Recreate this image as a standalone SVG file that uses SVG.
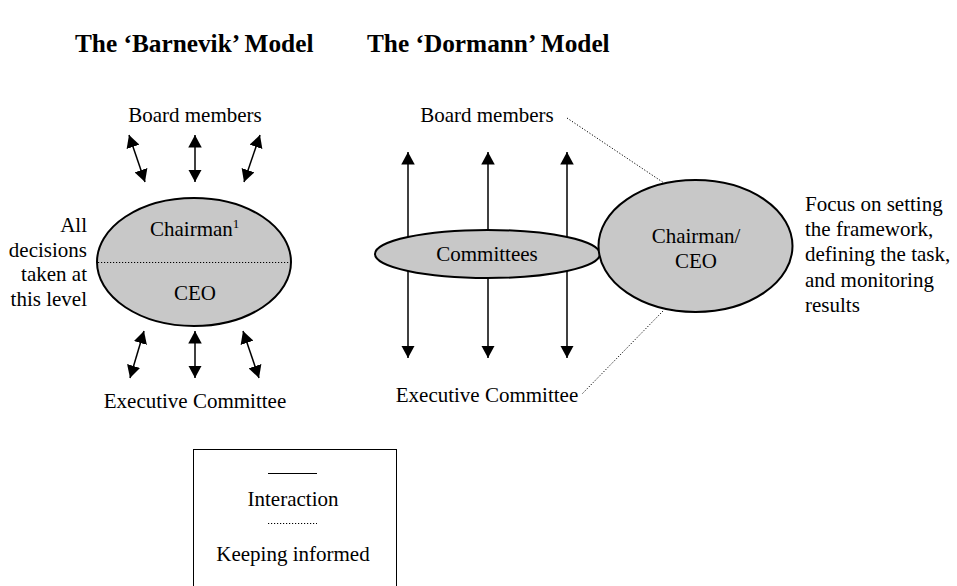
<svg xmlns="http://www.w3.org/2000/svg" width="957" height="586" viewBox="0 0 957 586">
<defs>
<style>
text{font-family:"Liberation Serif","Times New Roman",serif;font-size:21px;fill:#000}
.title{font-size:25.3px;font-weight:bold}
.mid{text-anchor:middle}
.end{text-anchor:end}
.node{fill:#c8c8c8;stroke:#000;stroke-width:2}
.arr{stroke:#000;stroke-width:1.5;fill:none;marker-start:url(#ah);marker-end:url(#ah)}
.dot{stroke:#000;stroke-width:1;stroke-dasharray:1.2 1.8;fill:none}
</style>
<marker id="ah" viewBox="0 0 10 10" refX="10" refY="5" markerUnits="userSpaceOnUse" markerWidth="12.5" markerHeight="13.5" preserveAspectRatio="none" orient="auto-start-reverse">
<path d="M0,0 L10,5 L0,10 z" fill="#000"/>
</marker>
</defs>
<rect width="957" height="586" fill="#fff"/>
<g id="titles">
<text class="title" x="75" y="52">The ‘Barnevik’ Model</text>
<text class="title" x="367" y="52">The ‘Dormann’ Model</text>
</g>
<g id="connectors">
<line class="arr" x1="129" y1="135" x2="145" y2="182"/>
<line class="arr" x1="195" y1="135" x2="195" y2="182"/>
<line class="arr" x1="260" y1="135" x2="244" y2="182"/>
<line class="arr" x1="144" y1="331" x2="130" y2="378"/>
<line class="arr" x1="195" y1="331" x2="195" y2="378"/>
<line class="arr" x1="243" y1="331" x2="259" y2="378"/>
<line class="arr" x1="408" y1="152" x2="408" y2="358"/>
<line class="arr" x1="488" y1="152" x2="488" y2="358"/>
<line class="arr" x1="567" y1="152" x2="567" y2="358"/>
<line class="dot" x1="567" y1="118" x2="664" y2="183"/>
<line class="dot" x1="663" y1="311" x2="582" y2="394"/>
</g>
<g id="barnevik-board">
<text class="mid" x="195" y="122">Board members</text>
</g>
<g id="barnevik-chairman-ceo">
<ellipse class="node" cx="194" cy="262" rx="97" ry="64"/>
<line class="dot" x1="98" y1="262.5" x2="290" y2="262.5"/>
<text x="150" y="236">Chairman<tspan font-size="13" dy="-8">1</tspan></text>
<text class="mid" x="195" y="300">CEO</text>
</g>
<g id="barnevik-note">
<text class="end" x="87" y="232">All</text>
<text class="end" x="87" y="257">decisions</text>
<text class="end" x="87" y="281">taken at</text>
<text class="end" x="87" y="306">this level</text>
</g>
<g id="barnevik-exec">
<text class="mid" x="195" y="408">Executive Committee</text>
</g>
<g id="dormann-board">
<text class="mid" x="487" y="122">Board members</text>
</g>
<g id="dormann-committees">
<ellipse class="node" cx="487.5" cy="254" rx="112.5" ry="24"/>
<text class="mid" x="487" y="261">Committees</text>
</g>
<g id="dormann-chairman-ceo">
<ellipse class="node" cx="695.5" cy="246" rx="97" ry="66"/>
<text class="mid" x="696" y="243">Chairman/</text>
<text class="mid" x="696" y="268">CEO</text>
</g>
<g id="dormann-note">
<text x="805" y="211">Focus on setting</text>
<text x="805" y="236">the framework,</text>
<text x="805" y="261">defining the task,</text>
<text x="805" y="287">and monitoring</text>
<text x="805" y="312">results</text>
</g>
<g id="dormann-exec">
<text class="mid" x="487" y="402">Executive Committee</text>
</g>
<g id="legend">
<rect x="193.5" y="449.5" width="203" height="145" fill="none" stroke="#000" stroke-width="1"/>
<line x1="268" y1="473.5" x2="317" y2="473.5" stroke="#000" stroke-width="1"/>
<text class="mid" x="293" y="506">Interaction</text>
<line class="dot" x1="268" y1="523.5" x2="317" y2="523.5"/>
<text class="mid" x="293" y="561">Keeping informed</text>
</g>
</svg>
